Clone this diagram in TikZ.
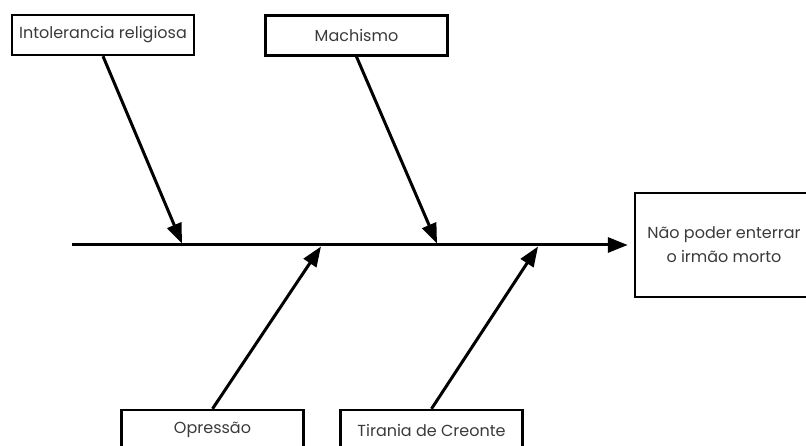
\documentclass[tikz,border=0pt]{standalone}
\usepackage{fontspec}
\setmainfont{Poppins}
\usepackage{tikz}
\usetikzlibrary{arrows.meta}
\definecolor{txtgray}{HTML}{3A3A3A}
\tikzstyle{cause}=[draw, line width=2.4pt, minimum width=182pt, minimum height=40pt, inner sep=0pt, text=txtgray, font=\fontsize{16}{18}\selectfont]
\tikzstyle{effect}=[draw, line width=2.4pt, minimum width=178pt, minimum height=104pt, inner sep=0pt, align=center, text=txtgray, font=\fontsize{16}{24}\selectfont]
\tikzstyle{arrow}=[-{Triangle[length=20pt, width=15pt]}, line width=3pt]

\begin{document}
\begin{tikzpicture}[x=1pt, y=-1pt]
      \useasboundingbox (0,0) rectangle (806,446);

      \node [cause] (intol) at (103,35) {Intolerancia religiosa};
      \node [cause] (mach) at (356.5,35.5) {Machismo};
      \node [cause] (opr) at (212.5,430) {Opressão};
      \node [cause] (tir) at (431.5,430) {Tirania de Creonte};

      \node [effect] (efeito) at (724,245) {Não poder enterrar\\o irmão morto};

      \coordinate (spine) at (72,245);
      \coordinate (tipintol) at (182,243.5);
      \coordinate (tipmach) at (437,243.5);
      \coordinate (tipopr) at (321,246.5);
      \coordinate (tiptir) at (538,246.5);

      \draw [arrow, shorten >=6pt] (spine) -- (efeito.west);
      \draw [arrow] (intol.south) -- (tipintol);
      \draw [arrow] (mach.south) -- (tipmach);
      \draw [arrow] (opr.north) -- (tipopr);
      \draw [arrow] (tir.north) -- (tiptir);
    \end{tikzpicture}
\end{document}
